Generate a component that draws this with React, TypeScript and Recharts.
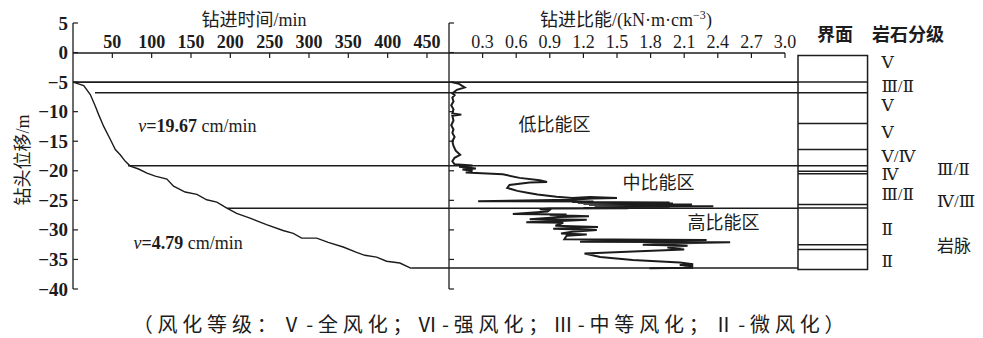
import React from "react";
import {
  ReferenceArea,
  ReferenceLine,
  Scatter,
  ScatterChart,
  XAxis,
  YAxis,
} from "recharts";

const INK = "#1c1c1c";
const SERIF = '"Liberation Serif", "Noto Sans CJK SC", serif';
const CJK = '"Liberation Serif", "Noto Sans CJK SC", sans-serif';
const ROMAN = '"Liberation Serif", "DejaVu Serif", "Noto Sans CJK SC", serif';

// axes
const depthTicks = [5, 0, -5, -10, -15, -20, -25, -30, -35, -40];
const timeTicks = [50, 100, 150, 200, 250, 300, 350, 400, 450];
const energyTicks = [0.3, 0.6, 0.9, 1.2, 1.5, 1.8, 2.1, 2.4, 2.7, 3.0];

// drilling time (min) vs bit depth (m)
const drillTime = [
  0, 13.6, 22, 28.4, 32.6, 39, 47.5, 53.8, 60, 66.5, 72.8, 83.4, 94, 104.6,
  119.4, 127.8, 142.6, 157.5, 170, 182.9, 195.6, 208, 225, 246, 267, 280,
  290.7, 309.8, 324.5, 343.5, 360.5, 371, 386, 398.6, 415.5, 430,
];
const drillDepth = [
  -5, -5.6, -7.1, -9.1, -10.5, -12.5, -14.7, -16.4, -17.3, -18.4, -19.2,
  -19.7, -20.4, -20.9, -21.4, -22.6, -23.6, -24.0, -24.9, -25.3, -26.3, -27.2,
  -28.0, -29.1, -30.1, -30.6, -31.4, -31.4, -32.1, -32.9, -33.8, -34.3, -34.6,
  -35.3, -35.6, -36.5,
];

// specific drilling energy (kN·m·cm^-3) vs depth (m), traced top to bottom
const energyValue = [
  // low-energy zone
  0.02, 0.09, 0.14, 0.07, 0.03, 0.05, 0.03, 0.04, 0.02, 0.04, 0.03, 0.11,
  0.03, 0.04, 0.02, 0.04, 0.03, 0.05, 0.03, 0.04, 0.06, 0.1, 0.05, 0.03, 0.05,
  // medium-energy zone
  0.21, 0.09, 0.24, 0.12, 0.21, 0.15, 0.48, 0.63, 0.81, 0.875, 0.72, 0.54,
  0.52, 0.61, 0.7, 0.79, 0.96, 1.1, 1.26, 1.5, 1.28, 1.08,
  0.26, 1.29, 1.1, 1.97, 1.15, 2.0, 1.2, 2.17, 1.25, 1.98, 1.3, 2.36, 1.4,
  1.97, 1.35, 1.9, 1.2, 1.6, 0.9,
  // high-energy zone
  0.81, 0.9, 0.88, 0.57, 0.81, 1.05, 0.9, 1.25, 1.0, 0.72, 1.23, 1.0, 0.69,
  1.02, 0.95, 1.33, 0.93, 1.32, 1.1, 1.0, 1.23, 1.05, 1.03, 2.3, 1.6, 1.17,
  2.51, 2.0, 1.73, 2.13, 1.95, 2.1, 1.7, 1.21, 1.35, 1.64, 2.06, 2.18, 2.06,
  2.18, 2.1, 2.18, 1.79,
];
const energyDepth = [
  -5.0, -5.3, -5.9, -6.3, -6.9, -7.2, -7.6, -8.3, -8.9, -9.6, -10.3, -10.5,
  -10.7, -11.5, -12.3, -13.0, -13.6, -14.3, -15.0, -15.8, -16.6, -17.3, -17.8,
  -18.4, -18.9,
  -19.1, -19.3, -19.6, -19.8, -20.0, -20.3, -20.6, -21.2, -21.6, -21.9, -22.0,
  -22.4, -22.9, -23.4, -23.7, -24.0, -24.4, -24.6, -24.45, -24.6, -24.7, -24.9,
  -25.15, -25.2, -25.3, -25.38, -25.46, -25.54, -25.62, -25.7, -25.78, -25.86,
  -25.94, -26.0, -26.06, -26.12, -26.18, -26.22, -26.28, -26.33, -26.4,
  -26.5, -26.6, -26.9, -27.3, -27.35, -27.4, -27.5, -27.7, -27.8, -28.2, -28.3,
  -28.5, -28.7, -28.8, -29.3, -29.5, -29.8, -30.0, -30.3, -30.6, -30.8, -31.0,
  -31.6, -31.7, -31.85, -32.0, -32.1, -32.3, -32.5, -32.7, -33.0, -33.3, -33.6,
  -34.0, -34.6, -35.1, -35.5, -35.8, -35.95, -36.1, -36.25, -36.4, -36.5,
];

// interfaces that cross both panels: depth, and time where the line leaves the curve
const crossDepth = [-5, -6.8, -19.15, -26.35, -36.45];
const crossStart = [0, 28, 70, 196, 430];

// interface column
const boxTop = -0.5;
const boxBottom = -36.7;
const boxLines = [-5.0, -6.8, -12.0, -16.4, -19.15, -20.1, -20.5, -25.7, -26.3, -32.5, -33.3];

// rock grades
const gradeLabels = ["Ⅴ", "Ⅲ/Ⅱ", "Ⅴ", "Ⅴ", "Ⅴ/Ⅳ", "Ⅳ", "Ⅲ/Ⅱ", "Ⅱ", "Ⅱ"];
const gradeDepth = [-1.75, -5.8, -9.0, -13.6, -17.5, -20.6, -24.0, -29.9, -35.3];
const sideLabels = ["Ⅲ/Ⅱ", "Ⅳ/Ⅲ", "岩脉"];
const sideDepth = [-19.7, -25.2, -32.8];

const zoneLabels = ["低比能区", "中比能区", "高比能区"];
const speedLabels = ["19.67", "4.79"];

const TIME_MAX = 478;
const ENERGY_MAX = 3.116;
const BOX_MAX = 2.66;

const drillCurve = drillTime.map((t, i) => ({ x: t, y: drillDepth[i] }));
const energyCurve = energyValue.map((e, i) => ({ x: e, y: energyDepth[i] }));
const gradePts = gradeLabels.map((l, i) => ({ x: 1.2, y: gradeDepth[i], label: l }));
const sidePts = sideLabels.map((l, i) => ({ x: 2.0, y: sideDepth[i], label: l }));
const zonePts = [
  { x: 0.62, y: -12.2, label: zoneLabels[0] },
  { x: 1.55, y: -22.0, label: zoneLabels[1] },
  { x: 2.13, y: -28.9, label: zoneLabels[2] },
];
const speedPts = [
  { x: 83, y: -12.5, label: speedLabels[0] },
  { x: 77, y: -32.3, label: speedLabels[1] },
];

const noDot = () => <g />;

const fmtDepth = (v: number) => (v < 0 ? "\u2212" + Math.abs(v) : String(v));

const DepthTick = (p: any) => (
  <g>
    <line x1={p.x + 5} x2={p.x + 10} y1={p.y} y2={p.y} stroke={INK} strokeWidth={1.2} />
    <text
      x={p.x}
      y={p.y}
      textAnchor="end"
      dominantBaseline="central"
      fontFamily={SERIF}
      fontWeight="bold"
      fontSize={19}
      fill={INK}
    >
      {fmtDepth(p.payload.value)}
    </text>
  </g>
);

const InnerTick = (p: any) => (
  <line x1={p.x} x2={p.x + 5} y1={p.y} y2={p.y} stroke={INK} strokeWidth={1.2} />
);

const TimeTick = (p: any) => (
  <g>
    <line x1={p.x} x2={p.x} y1={p.y + 4} y2={p.y + 9} stroke={INK} strokeWidth={1.2} />
    <text x={p.x} y={p.y - 1} textAnchor="middle" fontFamily={SERIF} fontWeight="bold" fontSize={18} fill={INK}>
      {p.payload.value}
    </text>
  </g>
);

const EnergyTick = (p: any) => (
  <g>
    <line x1={p.x} x2={p.x} y1={p.y + 4} y2={p.y + 9} stroke={INK} strokeWidth={1.2} />
    <text x={p.x} y={p.y - 1} textAnchor="middle" fontFamily={SERIF} fontSize={18} fill={INK}>
      {Number(p.payload.value).toFixed(1)}
    </text>
  </g>
);

const textShape = (font: string, size: number) => (p: any) => (
  <text
    x={p.cx}
    y={p.cy}
    dominantBaseline="central"
    fontFamily={font}
    fontSize={size}
    fill={INK}
  >
    {p.payload.label}
  </text>
);

const speedShape = (p: any) => (
  <text x={p.cx} y={p.cy} dominantBaseline="central" fontFamily={SERIF} fontSize={18} fill={INK}>
    <tspan fontStyle="italic">v</tspan>
    <tspan fontWeight="bold">={p.payload.label}</tspan>
    <tspan> cm/min</tspan>
  </text>
);

const abs = (left: number, top: number): React.CSSProperties => ({
  position: "absolute",
  left,
  top,
});

const centred = (left: number, top: number, size: number, bold = false): React.CSSProperties => ({
  ...abs(left, top),
  transform: "translate(-50%, -50%)",
  fontFamily: CJK,
  fontSize: size,
  fontWeight: bold ? "bold" : "normal",
  whiteSpace: "nowrap",
  color: INK,
});

const App = () => {
  return (
    <div style={{ position: "absolute", left: 0, top: 0, width: 983, height: 338, background: "#fff" }}>
      {/* left panel: depth vs time */}
      <div style={abs(0, 0)}>
        <ScatterChart width={449} height={338} margin={{ top: 23, right: 0, bottom: 49, left: 0 }}>
          <XAxis type="number" dataKey="x" domain={[0, TIME_MAX]} hide />
          <YAxis
            type="number"
            dataKey="y"
            domain={[-40, 5]}
            ticks={depthTicks}
            interval={0}
            width={73}
            axisLine={{ stroke: INK, strokeWidth: 1.3 }}
            tickLine={false}
            tickSize={0}
            tickMargin={5}
            tick={<DepthTick />}
          />
          {crossDepth.map((d, i) => (
            <ReferenceLine
              key={"c" + i}
              segment={[
                { x: crossStart[i], y: d },
                { x: TIME_MAX, y: d },
              ]}
              stroke={INK}
              strokeWidth={1.6}
            />
          ))}
          <Scatter
            data={drillCurve}
            line={{ stroke: INK, strokeWidth: 1.4 }}
            lineType="joint"
            shape={noDot}
            isAnimationActive={false}
          />
          <Scatter data={speedPts} shape={speedShape} isAnimationActive={false} />
        </ScatterChart>
      </div>
      {/* top time axis, drawn at depth 0 */}
      <div style={abs(0, 0)}>
        <ScatterChart width={460} height={338} margin={{ top: 23, right: 11, bottom: 49, left: 73 }}>
          <XAxis
            type="number"
            dataKey="x"
            orientation="top"
            domain={[0, TIME_MAX]}
            ticks={timeTicks}
            interval={0}
            height={30}
            axisLine={{ stroke: INK, strokeWidth: 1.3 }}
            tickLine={false}
            tickSize={0}
            tickMargin={4}
            tick={<TimeTick />}
          />
          <YAxis type="number" dataKey="y" domain={[-40, 0]} hide />
          <Scatter data={drillCurve} shape={noDot} isAnimationActive={false} />
        </ScatterChart>
      </div>

      {/* right panel: specific energy vs depth */}
      <div style={abs(439, 0)}>
        <ScatterChart width={359} height={338} margin={{ top: 23, right: 0, bottom: 49, left: 0 }}>
          <XAxis type="number" dataKey="x" domain={[0, ENERGY_MAX]} hide />
          <YAxis
            type="number"
            dataKey="y"
            domain={[-40, 5]}
            ticks={depthTicks}
            interval={0}
            width={10}
            axisLine={{ stroke: INK, strokeWidth: 1.3 }}
            tickLine={false}
            tickSize={0}
            tickMargin={0}
            tick={<InnerTick />}
          />
          {crossDepth.map((d, i) => (
            <ReferenceLine key={"r" + i} y={d} stroke={INK} strokeWidth={1.6} />
          ))}
          <Scatter
            data={energyCurve}
            line={{ stroke: INK, strokeWidth: 2 }}
            lineType="joint"
            shape={noDot}
            isAnimationActive={false}
          />
          <Scatter data={zonePts} shape={textShape(CJK, 18)} isAnimationActive={false} />
        </ScatterChart>
      </div>
      {/* top energy axis, drawn at depth 0 */}
      <div style={abs(439, 0)}>
        <ScatterChart width={359} height={338} margin={{ top: 23, right: 13, bottom: 49, left: 10 }}>
          <XAxis
            type="number"
            dataKey="x"
            orientation="top"
            domain={[0, 3]}
            ticks={energyTicks}
            interval={0}
            height={30}
            axisLine={{ stroke: INK, strokeWidth: 1.3 }}
            tickLine={false}
            tickSize={0}
            tickMargin={4}
            tick={<EnergyTick />}
          />
          <YAxis type="number" dataKey="y" domain={[-40, 0]} hide />
          <Scatter data={energyCurve} shape={noDot} isAnimationActive={false} />
        </ScatterChart>
      </div>

      {/* interface column and rock grades */}
      <div style={abs(788, 0)}>
        <ScatterChart width={195} height={338} margin={{ top: 23, right: 0, bottom: 49, left: 10 }}>
          <XAxis type="number" dataKey="x" domain={[0, BOX_MAX]} hide />
          <YAxis type="number" dataKey="y" domain={[-40, 5]} hide />
          <ReferenceArea
            x1={0}
            x2={1}
            y1={boxBottom}
            y2={boxTop}
            fill="none"
            stroke={INK}
            strokeWidth={1.5}
          />
          {boxLines.map((d, i) => (
            <ReferenceLine
              key={"b" + i}
              segment={[
                { x: 0, y: d },
                { x: 1, y: d },
              ]}
              stroke={INK}
              strokeWidth={1.5}
            />
          ))}
          <Scatter data={gradePts} shape={textShape(ROMAN, 17)} isAnimationActive={false} />
          <Scatter data={sidePts} shape={textShape(ROMAN, 17)} isAnimationActive={false} />
        </ScatterChart>
      </div>

      {/* titles */}
      <div style={centred(254, 18, 18)}>钻进时间/min</div>
      <div style={centred(626, 18, 18)}>
        钻进比能/(kN·m·cm<span style={{ fontSize: 12, verticalAlign: "super" }}>−3</span>)
      </div>
      <div style={centred(835, 33, 18, true)}>界面</div>
      <div style={centred(908, 33, 18, true)}>岩石分级</div>
      <div style={{ ...centred(21, 160, 18), transform: "translate(-50%, -50%) rotate(-90deg)" }}>
        钻头位移/m
      </div>
      <div
        style={{
          ...centred(491, 323, 20),
          fontFamily: '"Noto Sans CJK SC", sans-serif',
          letterSpacing: 4.8,
        }}
      >
        （风化等级：Ⅴ-全风化；Ⅵ-强风化；Ⅲ-中等风化；Ⅱ-微风化）
      </div>
    </div>
  );
};

export default App;
